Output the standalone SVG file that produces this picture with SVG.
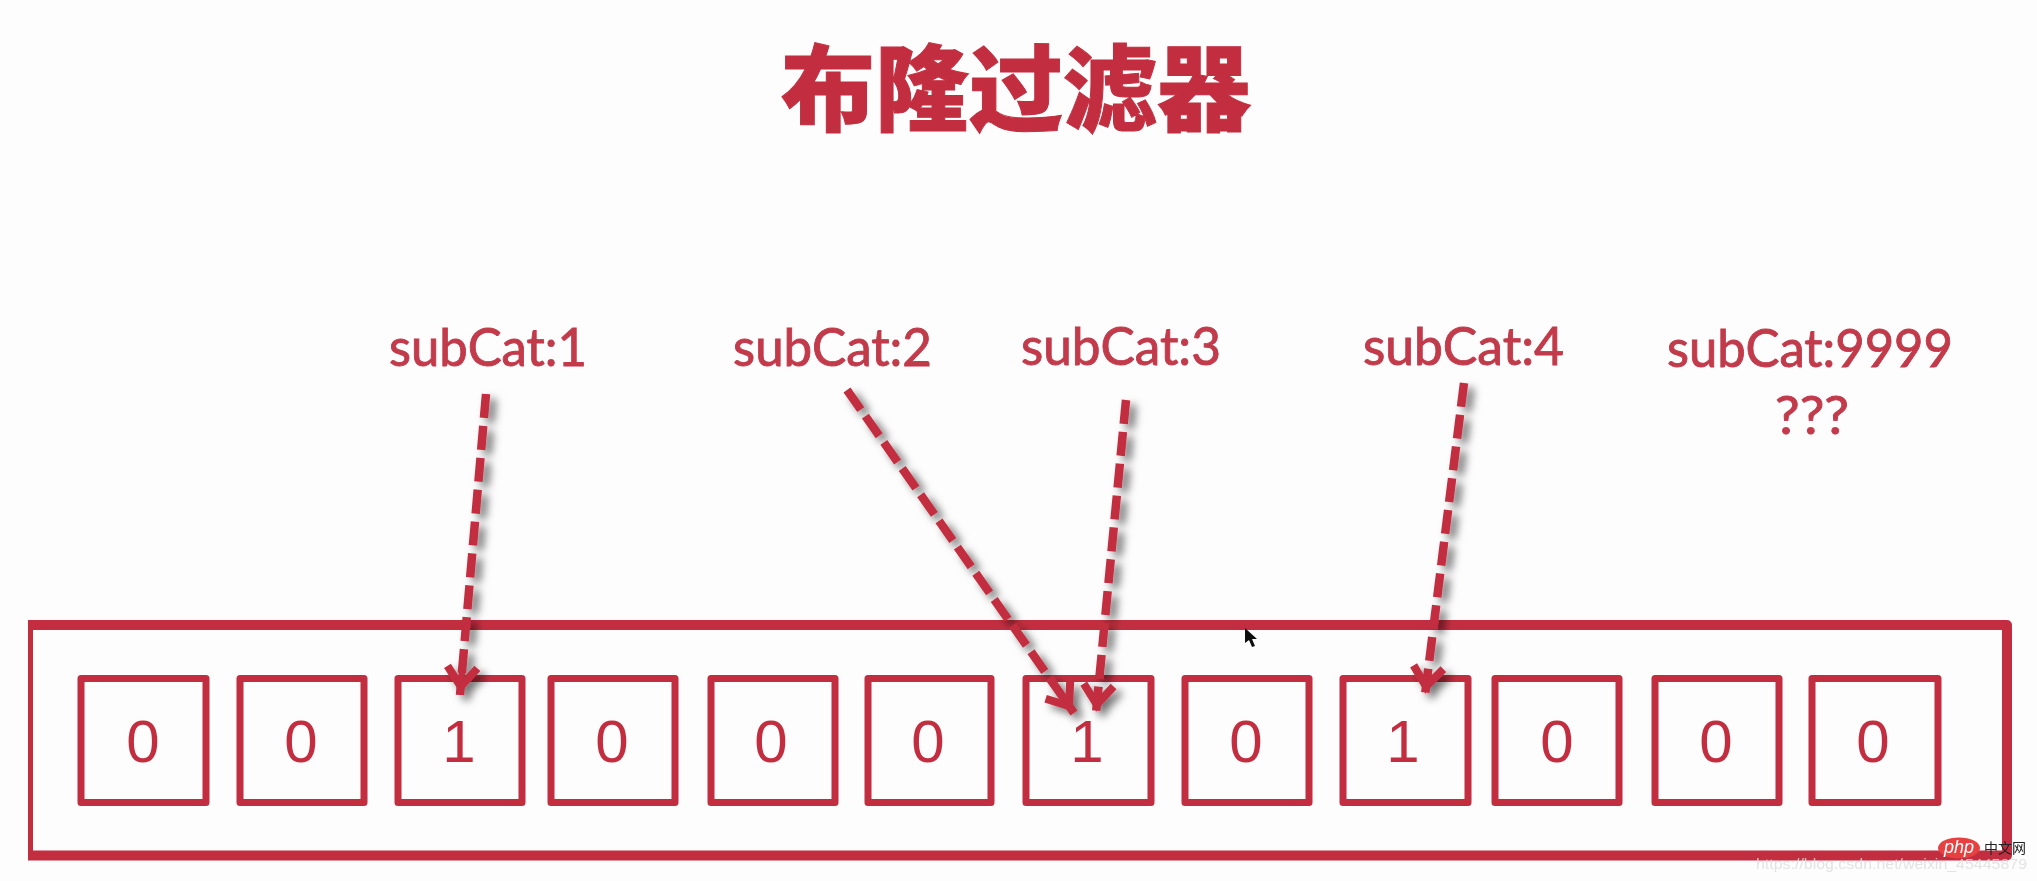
<svg xmlns="http://www.w3.org/2000/svg" width="2037" height="881" viewBox="0 0 2037 881">
<style>
.box{fill:none;stroke:#c22f40;stroke-width:7;stroke-linejoin:round}
.outer{fill:none;stroke:#c22f40;stroke-width:10;stroke-linejoin:round}
.digit{font-family:"Liberation Sans",Arial,sans-serif;font-size:60px;fill:#c22f40;text-anchor:middle}
.label{font-family:Lato,"Open Sans",sans-serif;font-size:52px;fill:#c23a4b;stroke:#c23a4b;stroke-width:0.9}
.title{font-family:"Noto Sans CJK SC",sans-serif;font-weight:900;font-size:94px;fill:#c22f40;stroke:#c22f40;stroke-width:1}
.arrow{fill:none;stroke:#c22f40;stroke-width:8.500;stroke-dasharray:24 8;marker-end:url(#head)}
</style>
<defs>
<filter id="soft" x="0" y="0" width="100%" height="100%"><feGaussianBlur stdDeviation="0.7"/></filter>
<filter id="shadow" x="-30%" y="-10%" width="160%" height="120%">
<feDropShadow dx="6" dy="5" stdDeviation="4" flood-color="#000" flood-opacity="0.55"/>
</filter>
<marker id="head" markerUnits="userSpaceOnUse" markerWidth="50" markerHeight="50" refX="40" refY="25" orient="auto">
<path d="M12 10L31.500 25L12 40" fill="none" stroke="#c22f40" stroke-width="8"/>
<path d="M14 21L40 25L14 29Z" fill="#c22f40"/>
</marker>
</defs>
<rect width="2037" height="881" fill="#fefdfd"/>
<g id="picture" filter="url(#soft)">
<text id="title" class="title" x="781" y="124" textLength="470" lengthAdjust="spacingAndGlyphs">布隆过滤器</text>
<g id="bloom-filter"><rect class="outer" x="28" y="625" width="1979" height="230.500"/></g>
<g id="cell-1"><rect class="box" x="81" y="678.500" width="125" height="124"/><text class="digit" x="143" y="762">0</text></g>
<g id="cell-2"><rect class="box" x="240" y="678.500" width="124" height="124"/><text class="digit" x="301" y="762">0</text></g>
<g id="cell-3"><rect class="box" x="398" y="678.500" width="124" height="124"/><text class="digit" x="459" y="762">1</text></g>
<g id="cell-4"><rect class="box" x="551" y="678.500" width="124" height="124"/><text class="digit" x="612" y="762">0</text></g>
<g id="cell-5"><rect class="box" x="711" y="678.500" width="124" height="124"/><text class="digit" x="771" y="762">0</text></g>
<g id="cell-6"><rect class="box" x="868" y="678.500" width="123" height="124"/><text class="digit" x="928" y="762">0</text></g>
<g id="cell-7"><rect class="box" x="1026" y="678.500" width="125" height="124"/><text class="digit" x="1087" y="762">1</text></g>
<g id="cell-8"><rect class="box" x="1185" y="678.500" width="124" height="124"/><text class="digit" x="1246" y="762">0</text></g>
<g id="cell-9"><rect class="box" x="1343" y="678.500" width="125" height="124"/><text class="digit" x="1403" y="762">1</text></g>
<g id="cell-10"><rect class="box" x="1495" y="678.500" width="124" height="124"/><text class="digit" x="1557" y="762">0</text></g>
<g id="cell-11"><rect class="box" x="1655" y="678.500" width="124" height="124"/><text class="digit" x="1716" y="762">0</text></g>
<g id="cell-12"><rect class="box" x="1812" y="678.500" width="126" height="124"/><text class="digit" x="1873" y="762">0</text></g>
<g id="label-1"><text class="label" x="389" y="366" textLength="198" lengthAdjust="spacingAndGlyphs">subCat:1</text></g>
<g id="label-2"><text class="label" x="733" y="366" textLength="199" lengthAdjust="spacingAndGlyphs">subCat:2</text></g>
<g id="label-3"><text class="label" x="1021" y="365" textLength="200" lengthAdjust="spacingAndGlyphs">subCat:3</text></g>
<g id="label-4"><text class="label" x="1363" y="365" textLength="201" lengthAdjust="spacingAndGlyphs">subCat:4</text></g>
<g id="label-5"><text class="label" x="1667" y="367" textLength="286" lengthAdjust="spacingAndGlyphs">subCat:9999</text><text class="label" x="1775" y="434" textLength="74" lengthAdjust="spacingAndGlyphs">???</text></g>
<g id="connectors" filter="url(#shadow)">
<line class="arrow" x1="486" y1="394" x2="460" y2="695"/>
<line class="arrow" x1="847" y1="390" x2="1074" y2="713"/>
<line class="arrow" x1="1126" y1="400" x2="1096" y2="713"/>
<line class="arrow" x1="1464" y1="383" x2="1425" y2="695"/>
</g>
<path id="cursor" d="M1245 628V643L1249 640L1252 647L1255 646L1252 639L1257 639Z" fill="#111"/>
<g id="watermark">
<ellipse cx="1959" cy="848" rx="21" ry="10.500" fill="#e8413f"/>
<text x="1959" y="853" font-family="Liberation Sans,sans-serif" font-style="italic" font-size="18" fill="#fff" text-anchor="middle">php</text>
<text x="1984" y="853" font-family="Noto Sans CJK SC,sans-serif" font-size="14" fill="#222">中文网</text>
<text x="1756" y="869" font-family="Liberation Sans,sans-serif" font-size="15.500" fill="#dcdcdc" fill-opacity="0.8" textLength="271" lengthAdjust="spacingAndGlyphs">https://blog.csdn.net/weixin_45445879</text>
</g>
</g>
</svg>
